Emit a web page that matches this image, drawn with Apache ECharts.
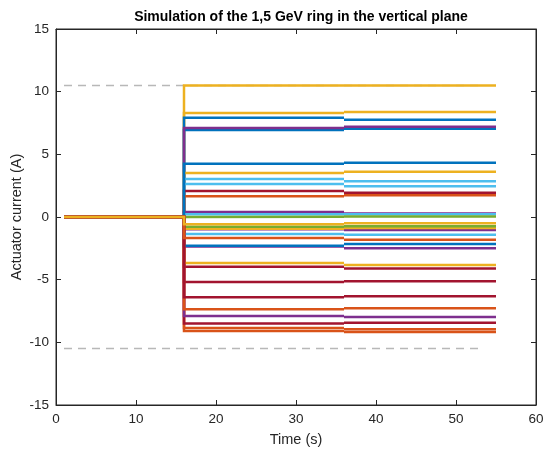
<!DOCTYPE html>
<html>
<head>
<meta charset="utf-8">
<script src="https://cdn.jsdelivr.net/npm/echarts@6/dist/echarts.min.js"></script>
<style>html,body{margin:0;padding:0;background:#fff}#c{width:544px;height:450px}</style>
</head>
<body>
<div id="c"></div>
<script>
// Time breakpoints (s)
var tStart = 1, tJump = 16, tStep = 36, tEnd = 55;
// Actuator currents (A): value between tJump and tStep, and after tStep
var valuesBefore = [10.5, 8.30, 7.92, 6.94, 7.10, 3.51, 3.03, 2.63, 2.07, 1.65, 0.40, 0.22, 0.02, 4.25,
  -9.10, -8.85, -8.49, -7.90, -3.67, -2.35, -2.29, -1.36, -0.98, -0.93, -0.77, -5.19, -3.97, -7.36, -6.41, -1.68, -0.58];
var valuesAfter  = [10.5, 8.38, 7.76, 7.05, 7.21, 3.62, 2.85, 2.45, 1.94, 1.73, 0.28, 0.22, 0.03, 4.33,
  -9.18, -8.96, -8.43, -7.98, -3.83, -2.50, -2.16, -1.41, -1.04, -0.88, -0.74, -5.13, -4.10, -7.29, -6.33, -1.81, -0.50];
// Limits (A) and their time span
var limitValues = [10.5, -10.5];
var limitSpan = [1, 53];
// Axis ticks
var xTicks = [0, 10, 20, 30, 40, 50, 60];
var yTicks = [-15, -10, -5, 0, 5, 10, 15];

var C = {b:'#0072BD', o:'#D95319', y:'#EDB120', p:'#7E2F8E', g:'#77AC30', lb:'#4DBEEE', r:'#A2142F'};
var seriesColors = [C.y, C.y, C.b, C.b, C.p, C.y, C.lb, C.lb, C.r, C.o, C.p, C.lb, C.g, C.b,
  C.o, C.o, C.r, C.p, C.y, C.p, C.b, C.lb, C.p, C.y, C.g, C.r, C.r, C.o, C.r, C.o, C.y];

var series = [];
limitValues.forEach(function(v){
  series.push({type:'line', data:[[limitSpan[0], v],[limitSpan[1], v]], symbol:'none', silent:true,
    lineStyle:{color:'#b8b8b8', width:1.5, type:[8,6]}, z:1});
});
valuesBefore.forEach(function(v, i){
  var v2 = valuesAfter[i];
  // the small step at tStep is split into two sub-paths so it is not merged away by the renderer
  series.push({type:'line', symbol:'none', silent:true, connectNulls:false,
    data:[[tStart,0],[tJump,0],[tJump,v],[tStep,v],[tStep,null],[tStep,v2],[tEnd,v2]],
    lineStyle:{color:seriesColors[i], width:2.5, cap:'butt', join:'miter'}, z:2});
});

var axisCol = '#262626';
var font = 'Liberation Sans, Arial, Helvetica, sans-serif';
function ax(extra){
  var base = {type:'value', axisLine:{show:true, onZero:false, lineStyle:{color:axisCol}},
    axisTick:{show:true, inside:true, length:5, lineStyle:{color:axisCol}},
    axisLabel:{fontFamily:font, fontSize:13.5, color:axisCol, margin:7}, splitLine:{show:false}};
  for (var k in extra) base[k] = extra[k];
  return base;
}
var chart = echarts.init(document.getElementById('c'), null, {renderer:'canvas'});
chart.setOption({
  animation:false,
  backgroundColor:'#fff',
  title:{text:'Simulation of the 1,5 GeV ring in the vertical plane', left:296, top:5, textAlign:'center',
    textStyle:{fontFamily:font, fontSize:14, fontWeight:'bold', color:'#000'}},
  grid:{left:56, right:8, top:29, bottom:45, show:true, borderColor:axisCol, borderWidth:1, backgroundColor:'#fff',
    outerBoundsMode:'none', containLabel:false},
  xAxis:[ax({min:xTicks[0], max:xTicks[xTicks.length-1], interval:10, position:'bottom', nameMoveOverlap:false,
    name:'Time (s)', nameLocation:'middle', nameGap:27, nameTextStyle:{fontFamily:font, fontSize:14.5, color:axisCol}}),
   ax({min:xTicks[0], max:xTicks[xTicks.length-1], interval:10, position:'top', axisLabel:{show:false}})],
  yAxis:[ax({min:yTicks[0], max:yTicks[yTicks.length-1], interval:5, position:'left', nameMoveOverlap:false,
    name:'Actuator current (A)', nameLocation:'middle', nameGap:32, nameTextStyle:{fontFamily:font, fontSize:14.5, color:axisCol}}),
   ax({min:yTicks[0], max:yTicks[yTicks.length-1], interval:5, position:'right', axisLabel:{show:false}})],
  series: series
});
</script>
</body>
</html>
